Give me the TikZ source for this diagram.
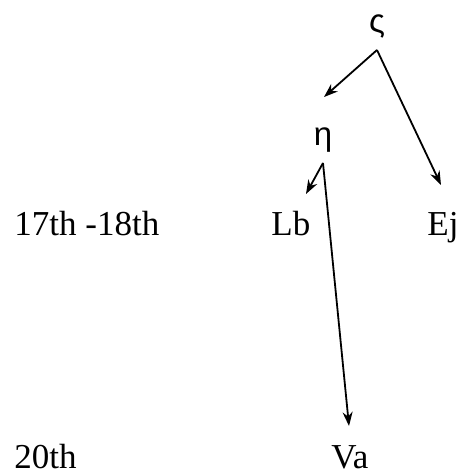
\documentclass[tikz,border=0pt]{standalone}
\usepackage{fontspec}
\setmainfont{Liberation Serif}
\newfontfamily\greekfont{Liberation Sans}
\usetikzlibrary{arrows.meta}
\begin{document}
\begin{tikzpicture}[x=0.5pt,y=-0.5pt,
  lbl/.style={inner sep=0pt,anchor=base west,font=\fontsize{17.5}{20}\selectfont},
  grk/.style={inner sep=0pt,anchor=base,font=\greekfont\fontsize{16.5}{20}\selectfont},
  arr/.style={line width=0.9pt,-{Stealth[length=7pt,width=5pt]}}]
\useasboundingbox (0,0) rectangle (456,473);
\node[grk] (s) at (377,32) {ς};
\node[grk] (h) at (323,145) {η};
\node[lbl] (c1) at (14,235) {17th -18th};
\node[lbl] (c2) at (14,468) {20th};
\node[lbl] (lb) at (271,235) {Lb};
\node[lbl] (ej) at (427,235) {Ej};
\node[lbl] (va) at (331,468) {Va};
\coordinate (s0) at (377,50);
\coordinate (h0) at (323,163);
\coordinate (t1) at (324,97);
\coordinate (t2) at (441,185);
\coordinate (t3) at (306,194);
\coordinate (t4) at (349,426);
\draw[arr] (s0) -- (t1);
\draw[arr] (s0) -- (t2);
\draw[arr] (h0) -- (t3);
\draw[arr] (h0) -- (t4);
\end{tikzpicture}
\end{document}
